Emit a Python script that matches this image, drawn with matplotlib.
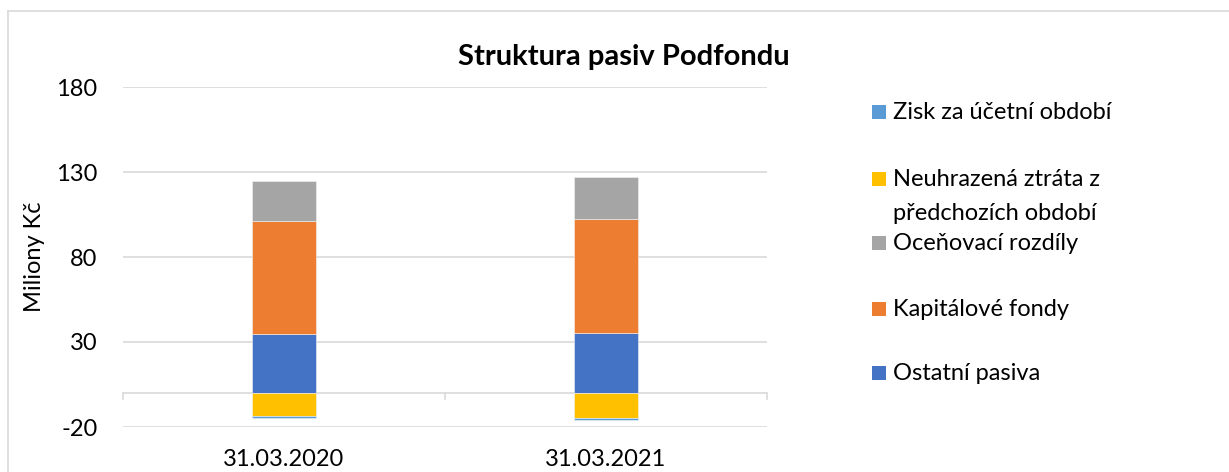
import matplotlib
matplotlib.use("Agg")
import matplotlib.pyplot as plt
from matplotlib.patches import Rectangle
from matplotlib.lines import Line2D
import numpy as np

plt.rcParams['font.family'] = ['Lato', 'DejaVu Sans']

categories = ["31.03.2020", "31.03.2021"]
series_names = ["Ostatní pasiva", "Kapitálové fondy", "Oceňovací rozdíly",
                "Neuhrazená ztráta z\npředchozích období", "Zisk za účetní období"]
ostatni_pasiva = [34.7, 35.1]
kapitalove_fondy = [66.7, 67.1]
ocenovaci_rozdily = [23.3, 25.0]
neuhrazena_ztrata = [-13.3, -14.5]
zisk = [-1.3, -1.2]
colors = ["#4472C4", "#ED7D31", "#A5A5A5", "#FFC000", "#5B9BD5"]
yticks = [-20, 30, 80, 130, 180]
title = "Struktura pasiv Podfondu"
ylabel = "Miliony Kč"

series = [ostatni_pasiva, kapitalove_fondy, ocenovaci_rozdily, neuhrazena_ztrata, zisk]

FS = 17
W, H = 1229, 472
fig = plt.figure(figsize=(W / 100, H / 100), dpi=100)
ax = fig.add_axes([123 / W, 1 - 427 / H, (767 - 123) / W, (427 - 87) / H])

x = np.arange(len(categories))
pos_bottom = np.zeros(len(categories))
neg_bottom = np.zeros(len(categories))
for vals, col in zip(series, colors):
    v = np.array(vals, dtype=float)
    bottom = np.where(v >= 0, pos_bottom, neg_bottom)
    ax.bar(x, v, width=0.2, bottom=bottom, color=col, edgecolor="#f2f2f2",
           linewidth=0.4, zorder=3)
    pos_bottom = pos_bottom + np.where(v >= 0, v, 0)
    neg_bottom = neg_bottom + np.where(v < 0, v, 0)

ax.set_xlim(-0.5, len(categories) - 0.5)
ax.set_ylim(yticks[0], yticks[-1])
ax.set_yticks(yticks)
ax.set_yticklabels([str(t) for t in yticks], fontsize=FS)
ax.tick_params(axis="y", length=0, pad=18.5)
ax.set_xticks(x)
ax.set_xticklabels(categories, fontsize=FS)
ax.tick_params(axis="x", length=0, pad=15.5)
ax.grid(axis="y", color="#d9d9d9", linewidth=1.2, zorder=0)
for s in ax.spines.values():
    s.set_visible(False)
ax.axhline(0, color="#d9d9d9", linewidth=1.2, zorder=2)
for b in np.arange(-0.5, len(categories), 1.0):
    ax.plot([b, b], [0, -3.5], color="#d9d9d9", linewidth=1.2, clip_on=False, zorder=2)

ax.set_ylabel(ylabel, fontsize=FS)
ax.yaxis.set_label_coords((45 - 123) / 644, 0.5)
fig.text(624 / W, 1 - 57 / H, title, ha="center", va="center", fontsize=21,
         fontweight="bold")

# legend (reversed order, as in the original)
ys = [112, 179, 243, 309, 373]
for name, col, yy in zip(series_names[::-1], colors[::-1], ys):
    fig.patches.append(Rectangle((872 / W, 1 - (yy + 7) / H), 14 / W, 14 / H,
                                 transform=fig.transFigure, facecolor=col,
                                 edgecolor="none"))
    fig.text(893 / W, 1 - (yy - 10) / H, name, ha="left", va="top", fontsize=FS,
             linespacing=1.75)

# chart border
fig.add_artist(Line2D([8 / W, 1], [1 - 11 / H, 1 - 11 / H], color="#d9d9d9",
                      linewidth=1.2, transform=fig.transFigure))
fig.add_artist(Line2D([8 / W, 8 / W], [0, 1 - 11 / H], color="#d9d9d9",
                      linewidth=1.2, transform=fig.transFigure))

fig.savefig("out.png", dpi=100)
